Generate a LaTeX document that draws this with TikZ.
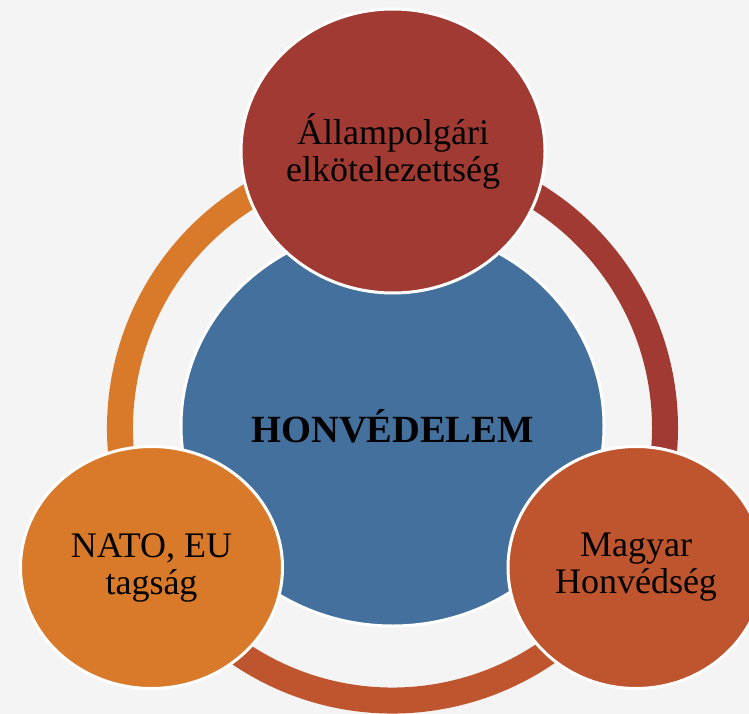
\documentclass[tikz,border=0pt]{standalone}
\usepackage{fontspec}
\setmainfont{Liberation Serif}
\usetikzlibrary{shapes.geometric}
\definecolor{bgc}{HTML}{F4F4F4}
\definecolor{cred}{HTML}{A13A33}
\definecolor{cblue}{HTML}{44709D}
\definecolor{corange}{HTML}{D97A2B}
\definecolor{crust}{HTML}{BF552E}
\tikzset{
  ringarc/.style={line width=26pt},
  bubble/.style={ellipse, draw=white, line width=3pt, inner sep=0pt, align=center,
    font=\fontsize{36}{37}\selectfont, text=black},
}
\begin{document}
\begin{tikzpicture}[x=1pt,y=-1pt]
\useasboundingbox (0,0) rectangle (749,714);
\clip (0,0) rectangle (749,714);
\fill[bgc] (0,0) rectangle (749,714);
\coordinate (O) at (392.5,428);
% ring segments
\draw[ringarc, corange] (O) ++(150:272.5) arc[start angle=150, end angle=270, radius=272.5];
\draw[ringarc, cred] (O) ++(270:272.5) arc[start angle=270, end angle=390, radius=272.5];
\draw[ringarc, crust] (O) ++(30:272.5) arc[start angle=30, end angle=150, radius=272.5];
% center
\node[bubble, fill=cblue, minimum width=423pt, minimum height=400pt,
  font=\bfseries\fontsize{38.5}{40}\selectfont] (center) at (392.5,426) {HONVÉDELEM};
% outer bubbles
\node[bubble, fill=cred, minimum width=304pt, minimum height=284pt] (top) at (393,151)
  {Állampolgári\\elkötelezettség};
\node[bubble, fill=corange, minimum width=262pt, minimum height=242pt] (left) at (151.5,567.5)
  {NATO, EU\\tagság};
\node[bubble, fill=crust, minimum width=256pt, minimum height=242pt] (right) at (636,567.5)
  {Magyar\\Honvédség};
\end{tikzpicture}
\end{document}
